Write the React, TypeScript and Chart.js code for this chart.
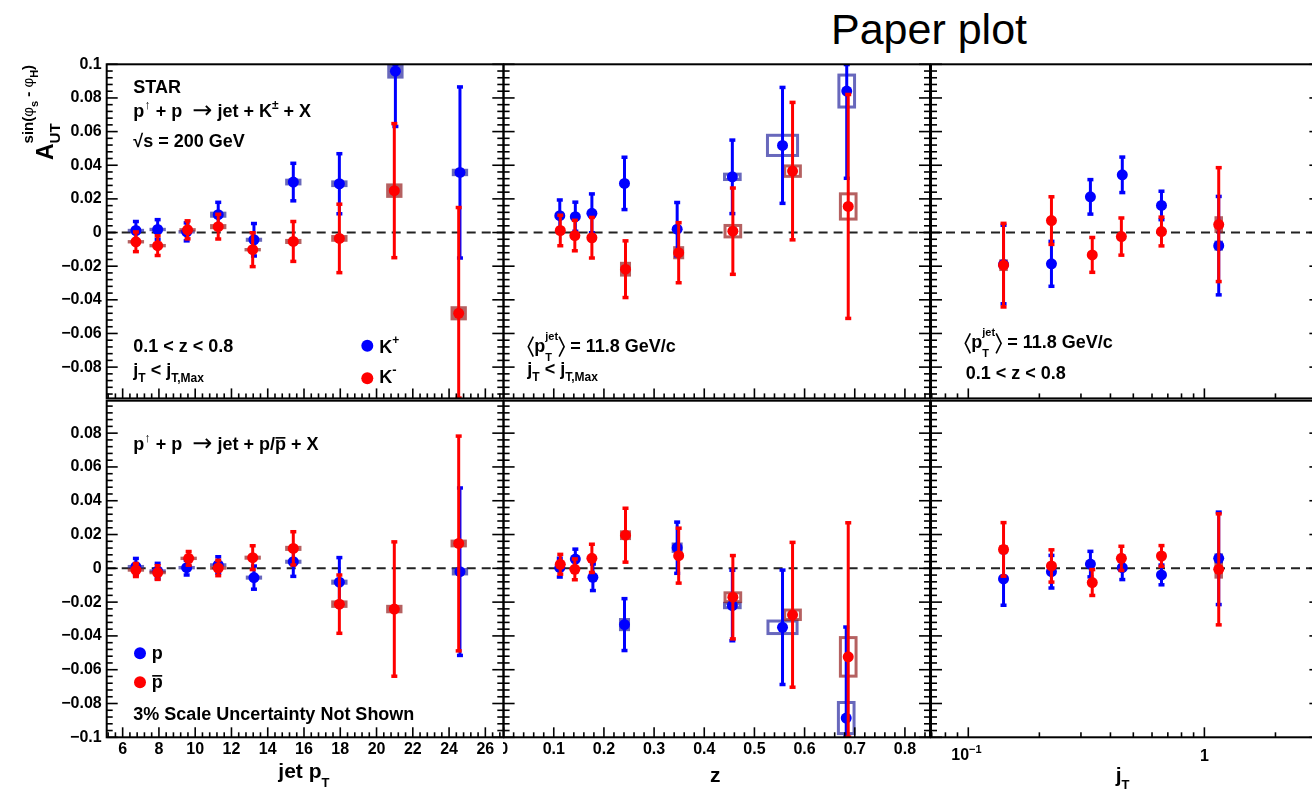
import React, { useEffect, useRef } from 'react';
import { Chart, registerables } from 'chart.js';

Chart.register(...registerables);

const FONT = "'Liberation Sans', Arial, Helvetica, sans-serif";
const BLUE = '#0000ff';
const RED = '#ff0000';
const BLUE_BOX = 'rgba(40,40,160,0.7)';
const RED_BOX = 'rgba(150,30,30,0.7)';

// ---------------- tick values ----------------
const yTicksTop = [-0.08, -0.06, -0.04, -0.02, 0, 0.02, 0.04, 0.06, 0.08, 0.1];
const yTicksBottom = [-0.1, -0.08, -0.06, -0.04, -0.02, 0, 0.02, 0.04, 0.06, 0.08];
const ptTicks = [6, 8, 10, 12, 14, 16, 18, 20, 22, 24, 26];
const zTicks = [0, 0.1, 0.2, 0.3, 0.4, 0.5, 0.6, 0.7, 0.8];
const jtTicks = [0.1, 1];

// ---------------- K+ / K- vs jet pT ----------------
const kpPtX = [6.73, 7.93, 9.53, 11.27, 13.24, 15.41, 17.95, 21.04, 24.6];
const kpPtY = [0.0012, 0.0018, 0.0004, 0.0106, -0.0043, 0.03, 0.029, 0.0959, 0.0357];
const kpPtErr = [0.0055, 0.006, 0.0055, 0.0075, 0.0098, 0.0113, 0.018, 0.033, 0.051];
const kpPtSys = [0.001, 0.001, 0.001, 0.0018, 0.0012, 0.002, 0.002, 0.0044, 0.0022];
const kmPtX = [6.73, 7.93, 9.58, 11.27, 13.17, 15.41, 17.95, 20.98, 24.53];
const kmPtY = [-0.0055, -0.0078, 0.0016, 0.0035, -0.0102, -0.0053, -0.0035, 0.0249, -0.048];
const kmPtErr = [0.006, 0.006, 0.0055, 0.0075, 0.0102, 0.012, 0.0205, 0.04, 0.063];
const kmPtSys = [0.001, 0.001, 0.001, 0.0015, 0.001, 0.0015, 0.002, 0.0043, 0.0042];
const ptSysDx = 0.45;

// ---------------- K+ / K- vs z ----------------
const kpZX = [0.112, 0.143, 0.176, 0.241, 0.346, 0.456, 0.556, 0.684];
const kpZY = [0.01, 0.0094, 0.0114, 0.0292, 0.002, 0.0331, 0.0518, 0.0841];
const kpZErr = [0.0095, 0.0088, 0.0117, 0.0157, 0.016, 0.022, 0.0346, 0.052];
const kpZSys = [0, 0, 0, 0, 0, 0.0016, 0.006, 0.0095];
const kpZSysDx = [0.0156, 0.0156, 0.0156, 0.0156, 0.0156, 0.0156, 0.03, 0.0156];
const kmZX = [0.113, 0.142, 0.176, 0.243, 0.349, 0.457, 0.576, 0.687];
const kmZY = [0.0012, -0.0018, -0.0031, -0.0218, -0.012, 0.0008, 0.0365, 0.0155];
const kmZErr = [0.0092, 0.0092, 0.0122, 0.017, 0.018, 0.0258, 0.041, 0.0667];
const kmZSys = [0, 0, 0, 0.0035, 0.003, 0.0034, 0.0031, 0.0075];
const kmZSysDx = [0.0156, 0.0156, 0.0156, 0.008, 0.008, 0.0156, 0.0156, 0.0156];

// ---------------- K+ / K- vs jT ----------------
const kpJtX = [0.141, 0.225, 0.329, 0.449, 0.658, 1.15];
const kpJtY = [-0.019, -0.0186, 0.0212, 0.0343, 0.0161, -0.0078];
const kpJtErr = [0.0235, 0.0135, 0.0104, 0.0107, 0.0086, 0.0294];
const kpJtSys = [0.002, 0.002, 0.0015, 0.0015, 0.0015, 0.003];
const kmJtX = [0.141, 0.225, 0.335, 0.445, 0.658, 1.15];
const kmJtY = [-0.0194, 0.0071, -0.0133, -0.0024, 0.0006, 0.0047];
const kmJtErr = [0.025, 0.0143, 0.0105, 0.0112, 0.0087, 0.034];
const kmJtSys = [0.0035, 0.002, 0.0015, 0.0015, 0.0015, 0.005];
const jtSysDx = 0.018; // in decades

// ---------------- p / pbar vs jet pT ----------------
const pPtX = [6.73, 7.93, 9.53, 11.27, 13.24, 15.41, 17.95, 21.04, 24.6];
const pPtY = [0.001, -0.0016, 0.0004, 0.002, -0.0055, 0.0039, -0.0082, null, -0.002];
const pPtErr = [0.005, 0.0047, 0.0045, 0.005, 0.007, 0.0088, 0.0147, null, 0.0497];
const pPtSys = [0.001, 0.001, 0.001, 0.001, 0.0012, 0.0012, 0.0015, null, 0.0022];
const pbPtX = [6.73, 7.93, 9.64, 11.27, 13.17, 15.41, 17.95, 20.98, 24.53];
const pbPtY = [-0.001, -0.0025, 0.0059, 0.0002, 0.0063, 0.0118, -0.0212, -0.0241, 0.0147];
const pbPtErr = [0.004, 0.0042, 0.0042, 0.0047, 0.0072, 0.01, 0.0174, 0.0399, 0.0637];
const pbPtSys = [0.001, 0.001, 0.001, 0.001, 0.0012, 0.0015, 0.0022, 0.0025, 0.0023];

// ---------------- p / pbar vs z ----------------
const pZX = [0.112, 0.143, 0.178, 0.241, 0.346, 0.456, 0.556, 0.683];
const pZY = [0.0004, 0.0055, -0.0053, -0.0333, 0.0122, -0.022, -0.0349, -0.0886];
const pZErr = [0.0057, 0.006, 0.008, 0.0155, 0.0153, 0.021, 0.034, 0.054];
const pZSys = [0, 0, 0, 0.003, 0.0022, 0.0013, 0.0037, 0.0092];
const pZSysDx = [0.0156, 0.0156, 0.0156, 0.008, 0.008, 0.0156, 0.029, 0.0156];
const pbZX = [0.113, 0.142, 0.176, 0.243, 0.349, 0.457, 0.576, 0.687];
const pbZY = [0.0024, -0.0006, 0.0059, 0.0196, 0.0075, -0.0171, -0.0275, -0.0524];
const pbZErr = [0.006, 0.0063, 0.0085, 0.0161, 0.0164, 0.0248, 0.043, 0.0795];
const pbZSys = [0, 0, 0, 0.002, 0, 0.0026, 0.0028, 0.0114];
const pbZSysDx = [0.0156, 0.0156, 0.0156, 0.008, 0.008, 0.0156, 0.0156, 0.0156];

// ---------------- p / pbar vs jT ----------------
const pJtX = [0.141, 0.225, 0.329, 0.449, 0.658, 1.15];
const pJtY = [-0.0063, -0.002, 0.0025, 0.0004, -0.0039, 0.0059];
const pJtErr = [0.0157, 0.0098, 0.0077, 0.0072, 0.006, 0.0275];
const pJtSys = [0.0015, 0.0015, 0.0012, 0.0012, 0.0012, 0.003];
const pbJtX = [0.141, 0.225, 0.335, 0.445, 0.658, 1.15];
const pbJtY = [0.0112, 0.0014, -0.0084, 0.0059, 0.0073, -0.0006];
const pbJtErr = [0.016, 0.0097, 0.0078, 0.0073, 0.0063, 0.033];
const pbJtSys = [0.0025, 0.0015, 0.0015, 0.0012, 0.0012, 0.0055];

// ---------------- rich text helpers ----------------
function drawSeg(ctx: any, x: number, y: number, s: any, base: number): number {
  if (s.shape) {
    ctx.save();
    ctx.lineWidth = 1.6;
    ctx.strokeStyle = '#000';
    ctx.beginPath();
    if (s.shape === 'langle') {
      ctx.moveTo(x + 6, y - 15); ctx.lineTo(x + 1, y - 5); ctx.lineTo(x + 6, y + 5);
    } else {
      ctx.moveTo(x + 1, y - 15); ctx.lineTo(x + 6, y - 5); ctx.lineTo(x + 1, y + 5);
    }
    ctx.stroke();
    ctx.restore();
    return 7;
  }
  const size = s.s ?? base;
  ctx.font = `${s.bold === false ? 'normal' : 'bold'} ${size}px ${s.fam ?? FONT}`;
  const yy = y + (s.dy ?? 0);
  ctx.fillText(s.t, x, yy);
  const w = ctx.measureText(s.t).width;
  if (s.bar) ctx.fillRect(x + 0.5, yy - size * 0.72, w - 1, Math.max(1.6, size * 0.09));
  return w;
}
function drawRich(ctx: any, x: number, y: number, segs: any[], base: number): number {
  let cx = x;
  for (const s of segs) {
    if (s.stack) {
      let m = 0;
      for (const seq of s.stack) {
        let w = 0;
        for (const s2 of seq) w += drawSeg(ctx, cx + w, y, s2, base);
        m = Math.max(m, w);
      }
      cx += m;
    } else cx += drawSeg(ctx, cx, y, s, base);
  }
  return cx - x;
}

const K_REACTION = [{ t: 'p' }, { t: '\u2191', s: 13, dy: -8 }, { t: ' + p  ' }, { t: '\u2192', s: 24, bold: false, fam: "'DejaVu Sans', sans-serif", dy: 1 }, { t: ' jet + K' }, { t: '\u00b1', s: 12, dy: -8 }, { t: ' + X' }];
const P_REACTION = [{ t: 'p' }, { t: '\u2191', s: 13, dy: -8 }, { t: ' + p  ' }, { t: '\u2192', s: 24, bold: false, fam: "'DejaVu Sans', sans-serif", dy: 1 }, { t: ' jet + p/' }, { t: 'p', bar: true }, { t: ' + X' }];
const JT_CUT = [{ t: 'j' }, { t: 'T', s: 12, dy: 6 }, { t: ' < j' }, { t: 'T,Max', s: 12, dy: 6 }];
const MEAN_PT = [{ shape: 'langle' }, { t: 'p' }, { stack: [[{ t: 'T', s: 11, dy: 9 }], [{ t: 'jet', s: 11, dy: -12 }]] }, { shape: 'rangle' }, { t: ' = 11.8 GeV/c' }];
const Z_CUT = [{ t: '0.1 < z < 0.8' }];
const Y_TITLE = [
  { t: 'A', s: 23 },
  {
    stack: [
      [{ t: 'UT', s: 15, dy: 6.7 }],
      [
        { t: 'sin(', s: 15, dy: -20 },
        { t: '\u03c6', s: 15, dy: -20, bold: false },
        { t: 's', s: 11, dy: -15 },
        { t: ' - ', s: 15, dy: -20 },
        { t: '\u03c6', s: 15, dy: -20, bold: false },
        { t: 'H', s: 11, dy: -15 },
        { t: ')', s: 15, dy: -20 },
      ],
    ],
  },
];

// ---------------- layout ----------------
const COLS = [
  { cx: 0, cw: 506, l: 106.7, r: 503.3 },
  { cx: 503, cw: 430, l: 503.3, r: 930 },
  { cx: 929, cw: 400, l: 930, r: 1320.4 },
];
const ROWS = [
  { cy: 40, ch: 363, t: 64.3, b: 400.7 },
  { cy: 399, ch: 392, t: 400.7, b: 737.3 },
];

const ptAxis = { xType: 'linear', xMin: 5.12, xMax: 26.99, xTicks: ptTicks, xMinor: 0.4, xMajorEvery: 5, boxStyle: 'fill', fmt: (v: number) => String(v) };
const zAxis = { xType: 'linear', xMin: 0, xMax: 0.85, xTicks: zTicks, xMinor: 0.02, xMajorEvery: 5, boxStyle: 'stroke', fmt: (v: number) => (v === 0 ? '0' : v.toFixed(1)) };
const jtAxis = { xType: 'logarithmic', xMin: 0.0695, xMax: 3.1, xTicks: jtTicks, boxStyle: 'fill', fmt: () => '' };

const panels: any[] = [
  {
    id: 'tl', col: 0, row: 0, ...ptAxis, yMin: -0.0986, yMax: 0.1, yTicks: yTicksTop,
    series: [
      { x: kpPtX, y: kpPtY, err: kpPtErr, sys: kpPtSys, dx: ptSysDx, color: BLUE, box: BLUE_BOX },
      { x: kmPtX, y: kmPtY, err: kmPtErr, sys: kmPtSys, dx: ptSysDx, color: RED, box: RED_BOX },
    ],
    texts: [
      { x: 133.3, y: 93.3, segs: [{ t: 'STAR' }] },
      { x: 133.3, y: 117, segs: K_REACTION },
      { x: 133.3, y: 147.3, segs: [{ t: '\u221as = 200 GeV' }] },
      { x: 133.3, y: 351.7, segs: Z_CUT },
      { x: 133.3, y: 376, segs: JT_CUT },
      { x: 379.3, y: 353.3, segs: [{ t: 'K' }, { t: '+', s: 12, dy: -9 }] },
      { x: 379.3, y: 383.3, segs: [{ t: 'K' }, { t: '-', s: 13, dy: -9 }] },
      { x: 53.3, y: 160, rot: true, segs: Y_TITLE },
    ],
    circles: [[367.3, 345.7, BLUE], [367.3, 378.3, RED]],
  },
  {
    id: 'tm', col: 1, row: 0, ...zAxis, yMin: -0.0986, yMax: 0.1, yTicks: yTicksTop,
    series: [
      { x: kpZX, y: kpZY, err: kpZErr, sys: kpZSys, dx: kpZSysDx, color: BLUE, box: BLUE_BOX },
      { x: kmZX, y: kmZY, err: kmZErr, sys: kmZSys, dx: kmZSysDx, color: RED, box: RED_BOX },
    ],
    texts: [
      { x: 527.3, y: 351.7, segs: MEAN_PT },
      { x: 527.3, y: 375, segs: JT_CUT },
    ],
    circles: [],
  },
  {
    id: 'tr', col: 2, row: 0, ...jtAxis, yMin: -0.0986, yMax: 0.1, yTicks: yTicksTop,
    series: [
      { x: kpJtX, y: kpJtY, err: kpJtErr, sys: kpJtSys, dx: jtSysDx, color: BLUE, box: BLUE_BOX },
      { x: kmJtX, y: kmJtY, err: kmJtErr, sys: kmJtSys, dx: jtSysDx, color: RED, box: RED_BOX },
    ],
    texts: [
      { x: 964.3, y: 348.3, segs: MEAN_PT },
      { x: 965.7, y: 379.3, segs: Z_CUT },
    ],
    circles: [],
  },
  {
    id: 'bl', col: 0, row: 1, ...ptAxis, yMin: -0.1, yMax: 0.0992, yTicks: yTicksBottom,
    series: [
      { x: pPtX, y: pPtY, err: pPtErr, sys: pPtSys, dx: ptSysDx, color: BLUE, box: BLUE_BOX },
      { x: pbPtX, y: pbPtY, err: pbPtErr, sys: pbPtSys, dx: ptSysDx, color: RED, box: RED_BOX },
    ],
    texts: [
      { x: 133.3, y: 450, segs: P_REACTION },
      { x: 151.7, y: 659, segs: [{ t: 'p' }] },
      { x: 151.7, y: 688, segs: [{ t: 'p', bar: true }] },
      { x: 133.3, y: 720, segs: [{ t: '3% Scale Uncertainty Not Shown' }] },
      { x: 278.3, y: 778.3, segs: [{ t: 'jet p', s: 21 }, { t: 'T', s: 13, dy: 9 }] },
    ],
    circles: [[140, 653.3, BLUE], [140, 682.3, RED]],
  },
  {
    id: 'bm', col: 1, row: 1, ...zAxis, yMin: -0.1, yMax: 0.0992, yTicks: yTicksBottom,
    series: [
      { x: pZX, y: pZY, err: pZErr, sys: pZSys, dx: pZSysDx, color: BLUE, box: BLUE_BOX },
      { x: pbZX, y: pbZY, err: pbZErr, sys: pbZSys, dx: pbZSysDx, color: RED, box: RED_BOX },
    ],
    texts: [{ x: 710, y: 781.7, segs: [{ t: 'z', s: 21 }] }],
    circles: [],
  },
  {
    id: 'br', col: 2, row: 1, ...jtAxis, yMin: -0.1, yMax: 0.0992, yTicks: yTicksBottom,
    series: [
      { x: pJtX, y: pJtY, err: pJtErr, sys: pJtSys, dx: jtSysDx, color: BLUE, box: BLUE_BOX },
      { x: pbJtX, y: pbJtY, err: pbJtErr, sys: pbJtSys, dx: jtSysDx, color: RED, box: RED_BOX },
    ],
    texts: [{ x: 1115.7, y: 781.7, segs: [{ t: 'j', s: 21 }, { t: 'T', s: 13, dy: 7 }] }],
    circles: [],
    logLabels: true,
  },
];

function yLabel(v: number) {
  const r = Math.round(v * 1000) / 1000;
  if (r === 0) return '0';
  const s = String(Math.abs(r));
  return r < 0 ? '\u2212' + s : s;
}

function makePlugin(p: any, cx: number, cy: number) {
  const clipArea = (ctx: any, a: any) => {
    ctx.beginPath();
    ctx.rect(a.left, a.top, a.right - a.left, a.bottom - a.top);
    ctx.clip();
  };
  return {
    id: 'rootstyle_' + p.id,
    beforeDatasetsDraw(chart: any) {
      const { ctx, chartArea: a, scales } = chart;
      const xs = scales.x, ys = scales.y;
      ctx.save();
      clipArea(ctx, a);
      const y0 = ys.getPixelForValue(0);
      ctx.setLineDash([9, 6]);
      ctx.strokeStyle = '#222';
      ctx.lineWidth = 2;
      ctx.beginPath();
      ctx.moveTo(a.left, y0);
      ctx.lineTo(a.right, y0);
      ctx.stroke();
      ctx.setLineDash([]);
      for (const s of p.series) {
        s.x.forEach((xv: number, j: number) => {
          const yv = s.y[j];
          const sy = s.sys[j];
          if (yv == null || !sy) return;
          const dx = Array.isArray(s.dx) ? s.dx[j] : s.dx;
          let x0: number, x1: number;
          if (p.xType === 'logarithmic') {
            x0 = xs.getPixelForValue(xv / Math.pow(10, dx));
            x1 = xs.getPixelForValue(xv * Math.pow(10, dx));
          } else {
            x0 = xs.getPixelForValue(xv - dx);
            x1 = xs.getPixelForValue(xv + dx);
          }
          const yt = ys.getPixelForValue(yv + sy);
          const yb = ys.getPixelForValue(yv - sy);
          if (p.boxStyle === 'fill') {
            ctx.fillStyle = s.box;
            ctx.fillRect(x0, yt, x1 - x0, yb - yt);
          } else {
            ctx.strokeStyle = s.box;
            ctx.lineWidth = 3;
            ctx.strokeRect(x0, yt, x1 - x0, yb - yt);
          }
        });
      }
      ctx.restore();
    },
    beforeDatasetDraw(chart: any, args: any) {
      const s = p.series[args.index];
      if (!s) return;
      const { ctx, chartArea: a, scales } = chart;
      const xs = scales.x, ys = scales.y;
      ctx.save();
      clipArea(ctx, a);
      ctx.strokeStyle = s.color;
      ctx.fillStyle = s.color;
      ctx.lineWidth = 3;
      s.x.forEach((xv: number, j: number) => {
        const yv = s.y[j];
        const e = s.err[j];
        if (yv == null || e == null) return;
        const px = xs.getPixelForValue(xv);
        const top = Math.max(ys.getPixelForValue(yv + e), a.top);
        const bot = Math.min(ys.getPixelForValue(yv - e), a.bottom);
        ctx.beginPath();
        ctx.moveTo(px, top);
        ctx.lineTo(px, bot);
        ctx.stroke();
        ctx.fillRect(px - 3, top - 1.5, 6, 3.5);
        ctx.fillRect(px - 3, bot - 2, 6, 3.5);
      });
      ctx.restore();
    },
    afterDatasetsDraw(chart: any) {
      const { ctx, chartArea: a, scales } = chart;
      const xs = scales.x, ys = scales.y;
      ctx.save();
      ctx.strokeStyle = '#000';
      ctx.lineWidth = 2;
      ctx.strokeRect(a.left, a.top, a.right - a.left, a.bottom - a.top);
      ctx.lineWidth = 1.6;
      const line = (x0: number, y0: number, x1: number, y1: number) => {
        ctx.beginPath();
        ctx.moveTo(x0, y0);
        ctx.lineTo(x1, y1);
        ctx.stroke();
      };
      // y ticks (left and right)
      const yMinor = 0.004;
      for (let k = Math.ceil(p.yMin / yMinor - 1e-6); k * yMinor <= p.yMax + 1e-9; k++) {
        const py = ys.getPixelForValue(k * yMinor);
        const L = Math.abs(k) % 5 === 0 ? 11 : 6;
        line(a.left, py, a.left + L, py);
        line(a.right, py, a.right - L, py);
      }
      // x ticks (bottom)
      if (p.xType === 'logarithmic') {
        for (let ex = -2; ex <= 1; ex++) {
          for (let d = 1; d <= 9; d++) {
            const v = d * Math.pow(10, ex);
            if (v < p.xMin || v > p.xMax) continue;
            const px = xs.getPixelForValue(v);
            line(px, a.bottom, px, a.bottom - (d === 1 ? 10 : 5));
          }
        }
      } else {
        for (let k = Math.ceil(p.xMin / p.xMinor - 1e-6); k * p.xMinor <= p.xMax + 1e-9; k++) {
          const px = xs.getPixelForValue(k * p.xMinor);
          line(px, a.bottom, px, a.bottom - (k % p.xMajorEvery === 0 ? 10 : 5));
        }
      }
      ctx.restore();
    },
    afterDraw(chart: any) {
      const { ctx, scales } = chart;
      ctx.save();
      ctx.translate(-cx, -cy);
      ctx.fillStyle = '#000';
      ctx.textBaseline = 'alphabetic';
      ctx.textAlign = 'left';
      for (const c of p.circles) {
        ctx.fillStyle = c[2];
        ctx.beginPath();
        ctx.arc(c[0], c[1], 6, 0, Math.PI * 2);
        ctx.fill();
      }
      ctx.fillStyle = '#000';
      for (const t of p.texts) {
        if (t.rot) {
          ctx.save();
          ctx.translate(t.x, t.y);
          ctx.rotate(-Math.PI / 2);
          drawRich(ctx, 0, 0, t.segs, 18);
          ctx.restore();
        } else {
          drawRich(ctx, t.x, t.y, t.segs, 18);
        }
      }
      ctx.restore();
      if (p.logLabels) {
        ctx.save();
        ctx.fillStyle = '#000';
        const xs = scales.x;
        const baseY = 760 - cy;
        for (const v of p.xTicks) {
          const px = xs.getPixelForValue(v);
          const ex = Math.round(Math.log10(v));
          if (ex === 0) {
            ctx.font = `bold 16px ${FONT}`;
            ctx.textAlign = 'center';
            ctx.fillText('1', px, baseY + 1);
          } else {
            ctx.textAlign = 'left';
            drawRich(ctx, px - 17, baseY, [{ t: '10', s: 16 }, { t: (ex < 0 ? '\u2212' : '') + Math.abs(ex), s: 11, dy: -7 }], 16);
          }
        }
        ctx.restore();
      }
    },
  };
}

function buildConfig(p: any) {
  const col = COLS[p.col];
  const row = ROWS[p.row];
  const showY = p.col === 0;
  const showX = p.row === 1;
  const yAxisW = col.l - col.cx;
  const xAxisH = row.cy + row.ch - row.b;
  const tickFont = { family: FONT, size: 16, weight: 'bold' as const };
  return {
    type: 'scatter' as const,
    data: {
      datasets: p.series.map((s: any, i: number) => ({
        data: s.x.map((xv: number, j: number) => ({ x: xv, y: s.y[j] })),
        pointRadius: 5.5,
        pointHoverRadius: 5.5,
        pointBorderWidth: 0,
        pointBackgroundColor: s.color,
        backgroundColor: s.color,
        borderColor: s.color,
        showLine: false,
        order: i === 0 ? 1 : 0,
      })),
    },
    options: {
      responsive: false,
      maintainAspectRatio: false,
      animation: false as const,
      devicePixelRatio: 1,
      events: [],
      layout: {
        autoPadding: false,
        padding: {
          left: showY ? 0 : col.l - col.cx,
          right: col.cx + col.cw - col.r,
          top: row.t - row.cy,
          bottom: showX ? 0 : row.cy + row.ch - row.b,
        },
      },
      plugins: { legend: { display: false }, tooltip: { enabled: false }, title: { display: false } },
      scales: {
        x: {
          type: p.xType,
          min: p.xMin,
          max: p.xMax,
          display: showX,
          grid: { display: false, drawTicks: false },
          border: { display: false },
          ticks: {
            display: p.xType !== 'logarithmic',
            autoSkip: false,
            maxRotation: 0,
            minRotation: 0,
            padding: 3,
            font: tickFont,
            color: '#000',
            callback: (v: number) => p.fmt(v),
          },
          afterBuildTicks: (sc: any) => {
            sc.ticks = p.xTicks.map((v: number) => ({ value: v }));
          },
          afterFit: (sc: any) => {
            sc.height = xAxisH;
            sc.paddingLeft = 0;
            sc.paddingRight = 0;
          },
        },
        y: {
          type: 'linear',
          position: 'left',
          min: p.yMin,
          max: p.yMax,
          display: showY,
          grid: { display: false, drawTicks: false },
          border: { display: false },
          ticks: {
            autoSkip: false,
            padding: 5,
            font: tickFont,
            color: '#000',
            callback: (v: number) => yLabel(v),
          },
          afterBuildTicks: (sc: any) => {
            sc.ticks = p.yTicks.map((v: number) => ({ value: v }));
          },
          afterFit: (sc: any) => {
            sc.width = yAxisW;
            sc.paddingTop = 0;
            sc.paddingBottom = 0;
          },
        },
      },
    },
    plugins: [makePlugin(p, col.cx, row.cy)],
  };
}

function Panel({ p }: { p: any }) {
  const ref = useRef<HTMLCanvasElement>(null);
  const col = COLS[p.col];
  const row = ROWS[p.row];
  useEffect(() => {
    const chart = new Chart(ref.current as HTMLCanvasElement, buildConfig(p) as any);
    return () => chart.destroy();
  }, []);
  return (
    <canvas
      ref={ref}
      width={col.cw}
      height={row.ch}
      style={{ position: 'absolute', left: col.cx, top: row.cy, width: col.cw, height: row.ch }}
    />
  );
}

export default function App() {
  return (
    <div style={{ position: 'fixed', left: 0, top: 0, width: 1312, height: 791, overflow: 'hidden', background: '#fff' }}>
      <div
        style={{
          position: 'absolute',
          left: 831,
          top: 8,
          fontFamily: FONT,
          fontSize: 43,
          lineHeight: '43px',
          color: '#000',
          whiteSpace: 'nowrap',
        }}
      >
        Paper plot
      </div>
      {panels.map((p) => (
        <Panel key={p.id} p={p} />
      ))}
    </div>
  );
}
